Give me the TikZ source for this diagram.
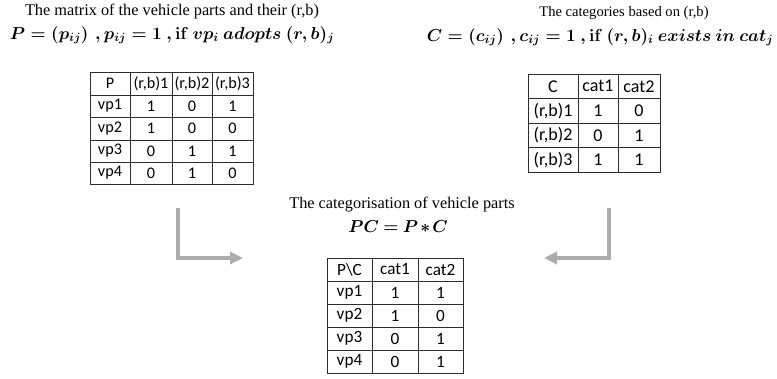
\documentclass[tikz,border=0pt]{standalone}
\usepackage{amsmath}
\usepackage{fontspec}
\setmainfont{Liberation Serif}
\newfontfamily\tabfont{Carlito}
\usetikzlibrary{arrows.meta}
\definecolor{arrgray}{RGB}{172,172,172}
\definecolor{gridc}{RGB}{45,45,45}
\tikzset{
  title/.style={font=\fontsize{16.3}{18}\selectfont, inner sep=0pt},
  titlesmall/.style={font=\fontsize{14.6}{16}\selectfont, inner sep=0pt},
  formula/.style={font=\fontsize{17.4}{20}\selectfont, inner sep=0pt},
  cellP/.style={font=\tabfont\fontsize{16.2}{19}\selectfont, inner sep=0pt},
  cellC/.style={font=\tabfont\fontsize{18}{21}\selectfont, inner sep=0pt},
  cellQ/.style={font=\tabfont\fontsize{17.2}{20}\selectfont, inner sep=0pt},
  grid/.style={draw=gridc, line width=0.85pt},
  flow/.style={draw=arrgray, line width=4.5pt, -{Triangle[length=13pt,width=12pt]}}
}
\begin{document}
\begin{tikzpicture}[x=1pt,y=-1pt]
\useasboundingbox (0,0) rectangle (777,379);
% titles
\node[title] (t1) at (172,12) {The matrix of the vehicle parts and their (r,b)};
\node[formula] (f1) at (172,35) {$\boldsymbol{P=\left(p_{ij}\right)\,,p_{ij}=1\ ,\mathbf{if}\ vp_i\ adopts\ (r,b)_j}$};
\node[titlesmall] (t2) at (624,13) {The categories based on (r,b)};
\node[formula] (f2) at (600,37) {$\boldsymbol{C=\left(c_{ij}\right)\,,c_{ij}=1\ ,\mathbf{if}\ (r,b)_i\ exists\ in\ cat_j}$};
\node[title] (t3) at (402,205) {The categorisation of vehicle parts};
\node[formula, font=\fontsize{17}{20}\selectfont] (f3) at (398,227) {$\boldsymbol{PC\mkern-1mu=\mkern-1mu P\mkern-2mu*\mkern-2mu C}$};
% table P
\draw[grid] (90,72) rectangle (253,184);
\foreach \x in {130,172,212} \draw[grid] (\x,72) -- (\x,184);
\foreach \y in {95,117,140,162} \draw[grid] (90,\y) -- (253,\y);
\foreach \r/\yy/\a/\b/\c/\d in {0/83.5/P/(r{,}b)1/(r{,}b)2/(r{,}b)3,1/106/vp1/1/0/1,2/128.5/vp2/1/0/0,3/151/vp3/0/1/1,4/173/vp4/0/1/0}{
  \node[cellP] (P-\r-0) at (110,\yy) {\a};
  \node[cellP] (P-\r-1) at (151,\yy) {\b};
  \node[cellP] (P-\r-2) at (192,\yy) {\c};
  \node[cellP] (P-\r-3) at (232.5,\yy) {\d};
}
% table C
\draw[grid] (528,74) rectangle (660,172);
\foreach \x in {578,618} \draw[grid] (\x,74) -- (\x,172);
\foreach \y in {98.5,123,147.5} \draw[grid] (528,\y) -- (660,\y);
\foreach \r/\yy/\a/\b/\c in {0/86.25/C/cat1/cat2,1/110.75/(r{,}b)1/1/0,2/135.25/(r{,}b)2/0/1,3/159.75/(r{,}b)3/1/1}{
  \node[cellC] (C-\r-0) at (553,\yy) {\a};
  \node[cellC] (C-\r-1) at (598,\yy) {\b};
  \node[cellC] (C-\r-2) at (639,\yy) {\c};
}
% table PC
\draw[grid] (327,258) rectangle (463,373);
\foreach \x in {372,418} \draw[grid] (\x,258) -- (\x,373);
\foreach \y in {281,304,327,350} \draw[grid] (327,\y) -- (463,\y);
\foreach \r/\yy/\a/\b/\c in {0/269.5/P\textbackslash C/cat1/cat2,1/292.5/vp1/1/1,2/315.5/vp2/1/0,3/338.5/vp3/0/1,4/361.5/vp4/0/1}{
  \node[cellQ] (Q-\r-0) at (349.5,\yy) {\a};
  \node[cellQ] (Q-\r-1) at (395,\yy) {\b};
  \node[cellQ] (Q-\r-2) at (440.5,\yy) {\c};
}
% arrows
\coordinate (a1s) at (178,208);
\coordinate (a1e) at (243,258);
\coordinate (a2s) at (609,208);
\coordinate (a2e) at (544,258);
\draw[flow] (a1s) |- (a1e);
\draw[flow] (a2s) |- (a2e);
\end{tikzpicture}
\end{document}
